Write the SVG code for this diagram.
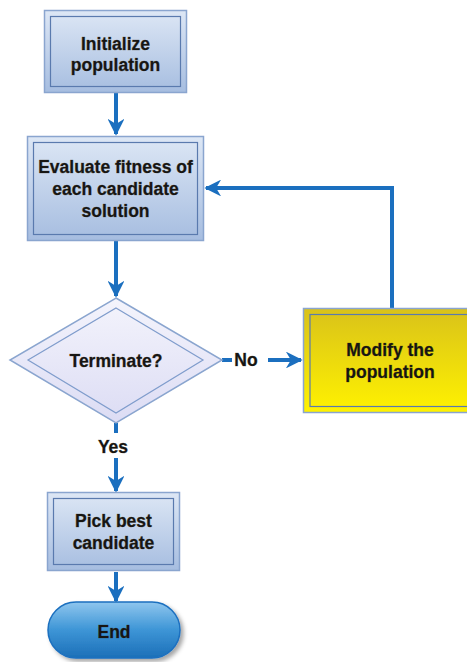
<svg xmlns="http://www.w3.org/2000/svg" width="467" height="662" viewBox="0 0 467 662">
<style>
.t{font-family:"Liberation Sans",Arial,sans-serif;font-weight:bold;font-size:17.5px;fill:#151515;text-anchor:middle;stroke:#2a1e08;stroke-width:0.5;stroke-opacity:0.6}
.ob{fill:url(#gb);stroke:#8aa5cf;stroke-width:1.5}
.ib{fill:none;stroke:#5a7aae;stroke-width:1.2}
.c{fill:none;stroke:#1b6fbf;stroke-width:4}
</style>
<defs>
<linearGradient id="gb" x1="0" y1="0" x2="0" y2="1"><stop offset="0" stop-color="#dde7f5"/><stop offset="1" stop-color="#a6bde0"/></linearGradient>
<linearGradient id="gd" x1="0" y1="0" x2="0" y2="1"><stop offset="0" stop-color="#f4f4fc"/><stop offset="1" stop-color="#dcdcf4"/></linearGradient>
<linearGradient id="gy" x1="0" y1="0" x2="0" y2="1"><stop offset="0" stop-color="#d9c21a"/><stop offset="1" stop-color="#fff200"/></linearGradient>
<linearGradient id="ge" x1="0" y1="0" x2="0" y2="1"><stop offset="0" stop-color="#8fc6ee"/><stop offset="0.5" stop-color="#3d95d6"/><stop offset="1" stop-color="#1c6fb8"/></linearGradient>
<marker id="ah" viewBox="0 0 10 10" refX="9" refY="5" markerWidth="4.2" markerHeight="4.2" orient="auto" markerUnits="strokeWidth"><path d="M0,0 L10,5 L0,10 L3,5 z" fill="#1b6fbf"/></marker>
<filter id="sh" x="-20%" y="-20%" width="150%" height="160%"><feDropShadow dx="3" dy="3" stdDeviation="2" flood-color="#000" flood-opacity="0.35"/></filter>
</defs>
<g id="connectors">
<line class="c" x1="116" y1="93" x2="116" y2="134" marker-end="url(#ah)"/>
<line class="c" x1="116" y1="241" x2="116" y2="296" marker-end="url(#ah)"/>
<line class="c" x1="222" y1="360" x2="232" y2="360"/>
<line class="c" x1="268" y1="360" x2="301" y2="360" marker-end="url(#ah)"/>
<polyline class="c" points="392,308 392,188 206,188" marker-end="url(#ah)"/>
<line class="c" x1="116" y1="423" x2="116" y2="433"/>
<line class="c" x1="116" y1="458" x2="116" y2="491" marker-end="url(#ah)"/>
<line class="c" x1="116" y1="572" x2="116" y2="601" marker-end="url(#ah)"/>
<text class="t" x="246" y="366">No</text>
<text class="t" x="113" y="453">Yes</text>
</g>
<g id="init">
<rect class="ob" x="44.5" y="10.5" width="142" height="82"/>
<rect class="ib" x="50.5" y="16.5" width="130" height="70"/>
<text class="t" x="115.5" y="50">Initialize</text>
<text class="t" x="115.5" y="71">population</text>
</g>
<g id="evaluate">
<rect class="ob" x="27.5" y="136.5" width="176" height="104"/>
<rect class="ib" x="33.5" y="142.5" width="164" height="92"/>
<text class="t" x="115.5" y="173">Evaluate fitness of</text>
<text class="t" x="115.5" y="195">each candidate</text>
<text class="t" x="115.5" y="217">solution</text>
</g>
<g id="terminate">
<polygon points="116,298 222,360 116,423 10,360" fill="url(#gd)" stroke="#8aa5cf" stroke-width="1.5"/>
<polygon points="116,308 203,360 116,413 28,360" fill="none" stroke="#7f9ccc" stroke-width="1.2"/>
<text class="t" x="116" y="367">Terminate?</text>
</g>
<g id="modify">
<rect x="303.5" y="308.5" width="170" height="104" fill="url(#gy)" stroke="#8aa5cf" stroke-width="1.5"/>
<rect x="310" y="314.5" width="160" height="92" fill="none" stroke="#5a7aae" stroke-width="1.2"/>
<text class="t" x="390" y="356">Modify the</text>
<text class="t" x="390" y="378">population</text>
</g>
<g id="pick">
<rect class="ob" x="47.5" y="492.5" width="132" height="78"/>
<rect class="ib" x="53.5" y="498.5" width="120" height="66"/>
<text class="t" x="113.5" y="527">Pick best</text>
<text class="t" x="113.5" y="549">candidate</text>
</g>
<g id="end">
<rect x="48" y="602" width="132" height="56" rx="28" ry="28" fill="url(#ge)" stroke="#1b6fbf" stroke-width="1.5" filter="url(#sh)"/>
<text class="t" x="114" y="638">End</text>
</g>
</svg>
